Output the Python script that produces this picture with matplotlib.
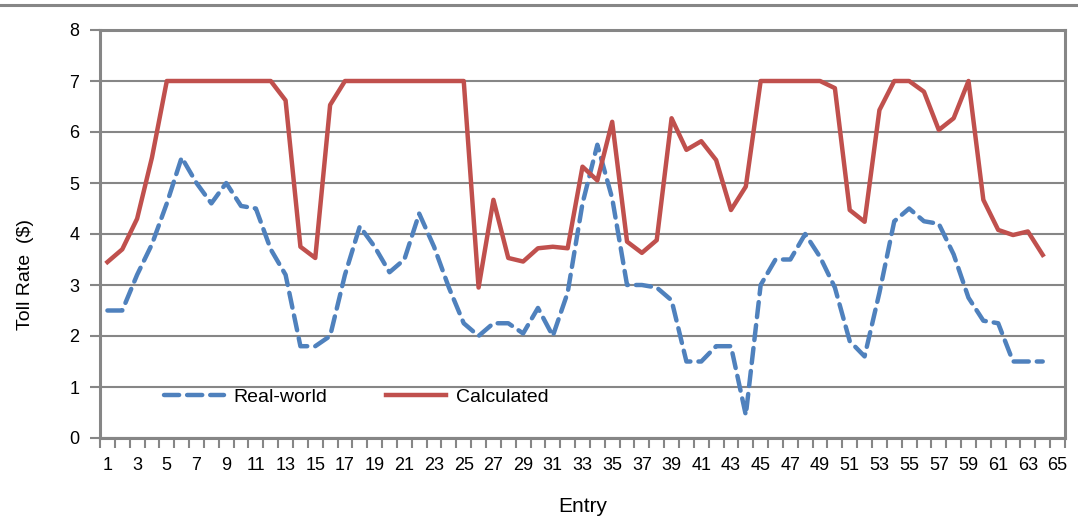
#!/usr/bin/env python3
import matplotlib
matplotlib.use('Agg')
import matplotlib.pyplot as plt
from matplotlib.lines import Line2D

entries = list(range(1, 65))

real_world = [2.5, 2.5, 3.2, 3.8, 4.6, 5.5, 5.0, 4.6, 5.0, 4.55, 4.5, 3.7, 3.2, 1.8,
              1.8, 2.0, 3.2, 4.15, 3.75, 3.25, 3.5, 4.4, 3.75, 2.95, 2.25, 2.0, 2.25,
              2.25, 2.05, 2.55, 2.0, 2.85, 4.6, 5.75, 4.7, 3.0, 3.0, 2.95, 2.7, 1.5,
              1.5, 1.8, 1.8, 0.45, 3.0, 3.5, 3.5, 4.0, 3.55, 2.95, 1.9, 1.6, 2.85,
              4.25, 4.5, 4.25, 4.2, 3.6, 2.75, 2.3, 2.25, 1.5, 1.5, 1.5]

calculated = [3.45, 3.7, 4.3, 5.5, 7.0, 7.0, 7.0, 7.0, 7.0, 7.0, 7.0, 7.0, 6.62, 3.75,
              3.53, 6.53, 7.0, 7.0, 7.0, 7.0, 7.0, 7.0, 7.0, 7.0, 7.0, 2.95, 4.67,
              3.53, 3.46, 3.72, 3.75, 3.72, 5.32, 5.05, 6.2, 3.85, 3.63, 3.88, 6.27,
              5.65, 5.82, 5.45, 4.47, 4.93, 7.0, 7.0, 7.0, 7.0, 7.0, 6.86, 4.47, 4.24,
              6.43, 7.0, 7.0, 6.79, 6.04, 6.27, 7.0, 4.67, 4.08, 3.98, 4.05, 3.59]

n_categories = 65
y_ticks = list(range(0, 9))

grey = '#868686'
plt.rcParams['font.family'] = ['Liberation Sans', 'DejaVu Sans']

fig = plt.figure(figsize=(10.78, 5.2), dpi=100)
ax = fig.add_axes([100 / 1078, 1 - 438 / 520, 965 / 1078, 408 / 520])

ax.plot(entries, real_world, color='#4F81BD', lw=3.2,
        linestyle=(0, (3.4, 1.8)), dash_capstyle='round', label='Real-world',
        zorder=3)
ax.plot(entries, calculated, color='#C0504D', lw=3.2, label='Calculated',
        solid_joinstyle='round', zorder=3)

ax.set_xlim(0.5, n_categories + 0.5)
ax.set_ylim(0, 8)
ax.set_yticks(y_ticks)
ax.set_xticks(range(1, n_categories + 1, 2))
ax.set_xticks([i + 0.5 for i in range(0, n_categories + 1)], minor=True)
ax.tick_params(axis='x', which='major', length=0, labelsize=13, pad=14)
ax.tick_params(axis='x', which='minor', length=7, width=1.5, color=grey,
               direction='out')
ax.tick_params(axis='y', length=7, width=1.5, color=grey, labelsize=13, pad=8)

ax.grid(axis='y', color=grey, lw=1.5, zorder=1)
ax.set_axisbelow(True)
for side in ['left', 'right', 'top', 'bottom']:
    ax.spines[side].set_color(grey)
    ax.spines[side].set_linewidth(2.2)

ax.set_xlabel('Entry', fontsize=15, labelpad=16)
ax.set_ylabel('Toll Rate  ($)', fontsize=14)
ax.yaxis.set_label_coords(-0.068, 0.40)

ax.legend(loc='center left', bbox_to_anchor=(0.048, 0.10), ncol=2,
          frameon=False, fontsize=14, handlelength=3.1, columnspacing=3.0,
          handletextpad=0.5)

fig.add_artist(Line2D([0, 1], [1 - 5 / 520, 1 - 5 / 520], color=grey, lw=2.2,
                      transform=fig.transFigure))

fig.savefig('out.png', dpi=100)
